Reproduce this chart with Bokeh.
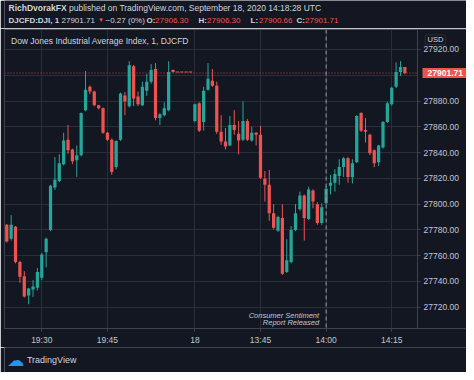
from bokeh.plotting import figure
from bokeh.layouts import column
from bokeh.models import (Range1d, FixedTicker, Span, Label, LinearAxis, Grid,
                          BoxAnnotation, NumeralTickFormatter, ColumnDataSource)
from bokeh.embed import file_html
from bokeh.resources import INLINE

# ---------------- data (1-minute bars, index 0 = 19:30) ----------------
bar_index = list(range(-8, 84))
opens = [27783.9, 27773.2, 27782.4, 27755.0, 27744.0, 27729.0, 27733.7, 27735.2,
         27742.8, 27762.6, 27780.0, 27812.8, 27818.0, 27831.0, 27850.0, 27842.4,
         27834.0, 27837.9, 27872.9, 27891.0, 27887.3, 27876.7, 27874.4, 27855.4,
         27850.0, 27828.7, 27850.0, 27884.3, 27875.9, 27907.0, 27883.5, 27876.7,
         27888.0, 27895.0, 27904.8, 27866.8, 27869.0, 27872.9, 27904.0, 27902.5,
         27902.5, 27902.5, 27902.5,
         27864.5, 27878.2, 27863.7, 27888.8, 27895.7, 27891.9, 27856.1, 27848.5,
         27845.5, 27861.4, 27854.6, 27850.0, 27864.5, 27849.3, 27855.4, 27853.8,
         27819.6, 27815.0, 27793.0, 27779.3, 27789.2, 27747.4, 27755.0, 27780.0,
         27796.0, 27806.7, 27788.4, 27810.5, 27799.9, 27785.4, 27800.6, 27814.3,
         27816.6, 27821.9, 27828.7, 27835.6, 27821.1, 27832.5, 27870.6, 27857.6,
         27853.8, 27841.7, 27832.5, 27844.0, 27863.7, 27877.4, 27891.0, 27902.5,
         27906.3]
highs = [27784.6, 27791.5, 27783.0, 27756.0, 27748.0, 27735.0, 27741.0, 27750.4,
         27762.0, 27774.0, 27815.0, 27836.4, 27838.6, 27855.4, 27861.4, 27843.0,
         27845.5, 27871.0, 27903.3, 27892.0, 27888.0, 27877.0, 27875.0, 27856.0,
         27851.0, 27849.5, 27886.5, 27887.0, 27910.9, 27908.0, 27887.3, 27895.0,
         27901.0, 27908.6, 27909.4, 27870.5, 27879.0, 27910.9, 27904.5, 27902.5,
         27902.5, 27902.5, 27902.5,
         27878.0, 27879.0, 27891.0, 27909.4, 27904.8, 27895.0, 27869.0, 27859.0,
         27868.3, 27872.9, 27864.5, 27879.7, 27866.0, 27860.0, 27856.0, 27860.7,
         27825.7, 27826.5, 27799.9, 27791.0, 27799.9, 27772.7, 27783.0, 27800.0,
         27809.7, 27807.5, 27813.5, 27811.5, 27801.5, 27800.6, 27814.0, 27822.7,
         27827.0, 27834.8, 27836.5, 27836.5, 27834.8, 27869.0, 27871.3, 27866.8,
         27854.5, 27842.5, 27846.0, 27864.5, 27879.5, 27891.0, 27910.0, 27910.9,
         27906.3]
lows = [27770.2, 27771.7, 27754.0, 27739.0, 27727.5, 27722.3, 27728.0, 27733.0,
        27741.0, 27751.0, 27779.0, 27811.0, 27817.0, 27830.0, 27839.0, 27831.0,
        27821.1, 27837.0, 27872.0, 27885.5, 27876.0, 27873.5, 27854.5, 27849.0,
        27822.7, 27827.0, 27849.0, 27869.0, 27875.0, 27876.0, 27876.0, 27876.0,
        27884.0, 27893.5, 27865.0, 27861.4, 27868.0, 27872.0, 27902.0, 27902.5,
        27902.5, 27902.5, 27902.5,
        27863.5, 27856.0, 27857.0, 27888.0, 27891.0, 27854.5, 27846.0, 27842.4,
        27845.0, 27853.8, 27838.6, 27849.0, 27849.0, 27848.5, 27845.5, 27819.5,
        27802.0, 27787.0, 27780.5, 27778.5, 27745.0, 27746.5, 27754.0, 27779.0,
        27795.0, 27771.7, 27787.5, 27796.8, 27784.0, 27783.9, 27800.0, 27807.5,
        27809.7, 27815.0, 27821.1, 27816.6, 27816.0, 27832.0, 27856.0, 27847.8,
        27838.0, 27828.7, 27829.5, 27843.0, 27863.0, 27876.5, 27890.0, 27899.5,
        27900.66]
closes = [27771.0, 27784.0, 27755.0, 27743.6, 27728.4, 27734.5, 27736.0, 27747.4,
          27761.0, 27773.2, 27814.3, 27818.9, 27831.8, 27849.3, 27841.7, 27833.3,
          27837.9, 27870.6, 27888.8, 27887.3, 27876.7, 27874.4, 27855.4, 27850.0,
          27825.0, 27849.0, 27885.8, 27879.7, 27907.8, 27882.0, 27877.4, 27891.0,
          27895.0, 27904.0, 27866.8, 27869.8, 27874.4, 27902.5, 27902.5, 27902.5,
          27902.5, 27902.5, 27902.5,
          27877.4, 27856.9, 27888.0, 27897.2, 27891.9, 27856.1, 27848.5, 27844.7,
          27861.4, 27857.6, 27849.3, 27864.5, 27850.0, 27855.4, 27853.8, 27820.4,
          27815.0, 27793.0, 27781.6, 27790.0, 27745.9, 27756.5, 27780.0, 27793.0,
          27806.7, 27789.2, 27811.3, 27802.1, 27785.4, 27797.6, 27812.0, 27816.6,
          27823.4, 27828.7, 27835.6, 27821.1, 27831.8, 27868.3, 27856.9, 27856.1,
          27839.4, 27831.8, 27845.5, 27863.7, 27878.2, 27890.3, 27902.5, 27906.3,
          27901.71]

tick_index = [0, 15, 35, 50, 65, 80]
tick_labels = ["19:30", "19:45", "18", "13:45", "14:00", "14:15"]
price_ticks = [27720, 27740, 27760, 27780, 27800, 27820, 27840, 27860, 27880, 27920]
grid_prices = [27720, 27740, 27760, 27780, 27800, 27820, 27840, 27860, 27880, 27900, 27920]
last_price = 27901.71
prev_change = "\u22120.27 (0%)"
event_index = 65
event_text = ["Consumer Sentiment", "Report Released"]
currency = "USD"

# ---------------- styling ----------------
BG = "#131722"
GRID = "#2a2e39"
BORDER = "#3e424d"
TEXT = "#d1d4dc"
AXTEXT = "#c3c6ce"
UP = "#26a69a"
DOWN = "#ef5350"
FONT = "Liberation Sans"
W = 466
X_START, X_SCALE_EDGE, X_END = -8.523, 85.888, 97.09   # price scale starts at X_SCALE_EDGE
Y_START, Y_END = 27703.49, 27935.48

colors = [UP if c > o else DOWN for o, c in zip(opens, closes)]
tops = [max(o, c) for o, c in zip(opens, closes)]
bottoms = [min(o, c) for o, c in zip(opens, closes)]
src = ColumnDataSource(dict(x=bar_index, o=opens, h=highs, l=lows, c=closes,
                            top=tops, bottom=bottoms, color=colors))
doji = [i for i, (o, c) in enumerate(zip(opens, closes)) if o == c]
doji_src = ColumnDataSource(dict(
    x0=[bar_index[i] - 0.38 for i in doji],
    x1=[bar_index[i] + 0.38 for i in doji],
    y=[closes[i] for i in doji]))


def label(fig, text, x, y, size="8px", color=TEXT, style="normal", align="left",
          xu="screen", yu="screen", font=FONT, **kw):
    fig.add_layout(Label(text=text, x=x, y=y, x_units=xu, y_units=yu,
                         text_font=font, text_font_size=size, text_color=color,
                         text_font_style=style, text_align=align,
                         text_baseline="middle", **kw))


def rule_axis(color):
    return LinearAxis(ticker=FixedTicker(ticks=[]), axis_line_color=color,
                      major_tick_line_color=None, minor_tick_line_color=None,
                      major_label_standoff=0)


# ---------------- header ----------------
hdr = figure(width=W, height=28, output_backend="svg", toolbar_location=None,
             x_range=Range1d(0, W), y_range=Range1d(0, 28),
             x_axis_type=None, y_axis_type=None, min_border=0,
             background_fill_color=BG, border_fill_color=BG, outline_line_color=None)
hdr.add_layout(rule_axis(BORDER), "below")
label(hdr, "RichDvorakFX", 4, 20.2, size="8.5px", style="bold")
label(hdr, "published on TradingView.com, September 18, 2020 14:18:28 UTC", 64.5, 20.2,
      size="8.5px")
label(hdr, "DJCFD:DJI, 1", 4, 8.4, style="bold")
label(hdr, f"{last_price:.2f}", 57, 8.4)
label(hdr, "\u25bc", 93.5, 8.4, color=DOWN, size="6px")
label(hdr, prev_change, 101, 8.4)
ohlc = [("O:", opens[-1], 142), ("H:", highs[-1], 194), ("L:", lows[-1], 246),
        ("C:", closes[-1], 292)]
for key, val, xx in ohlc:
    label(hdr, key, xx, 8.4, style="bold")
    label(hdr, f"{val:.2f}", xx + 8.6, 8.4, color=DOWN)

# ---------------- main chart ----------------
p = figure(width=W, height=319, output_backend="svg", toolbar_location=None,
           x_range=Range1d(X_START, X_END), y_range=Range1d(Y_START, Y_END),
           y_axis_type=None, min_border_left=4, min_border_right=0,
           min_border_top=1, min_border_bottom=19,
           background_fill_color=BG, border_fill_color=BG,
           outline_line_color=None)

p.xgrid.ticker = FixedTicker(ticks=tick_index)
p.xgrid.grid_line_color = GRID
p.add_layout(Grid(dimension=1, ticker=FixedTicker(ticks=grid_prices),
                  grid_line_color=GRID))
p.add_layout(rule_axis(BORDER), "left")

# last price line (behind candles), then blank the price-scale strip
p.add_layout(Span(location=last_price, dimension="width", line_color=DOWN,
                  line_alpha=0.8, line_dash="1 2", line_width=1, level="underlay"))
p.add_layout(BoxAnnotation(left=X_SCALE_EDGE, right=X_END, bottom=Y_START, top=Y_END,
                           fill_color=BG, fill_alpha=1, line_color=None,
                           level="underlay"))

xa = p.xaxis[0]
xa.ticker = FixedTicker(ticks=tick_index)
xa.major_label_overrides = {t: s for t, s in zip(tick_index, tick_labels)}
xa.axis_line_color = BORDER
xa.major_tick_line_color = BORDER
xa.major_tick_out = 3
xa.major_tick_in = 0
xa.minor_tick_line_color = None
xa.major_label_text_color = AXTEXT
xa.major_label_text_font = FONT
xa.major_label_text_font_size = "8.5px"
xa.major_label_standoff = 3

# price scale drawn at the right edge of the candle area
ya = LinearAxis(fixed_location=X_SCALE_EDGE, ticker=FixedTicker(ticks=price_ticks),
                formatter=NumeralTickFormatter(format="0.00"),
                axis_line_color=BORDER, major_tick_line_color=BORDER,
                major_tick_out=3, major_tick_in=0, minor_tick_line_color=None,
                major_label_text_color=AXTEXT, major_label_text_font=FONT,
                major_label_text_font_size="8.5px", major_label_standoff=3)
p.add_layout(ya, "right")

# candles
p.segment(x0="x", y0="h", x1="x", y1="l", line_color="color", line_width=1, source=src)
p.vbar(x="x", width=0.74, top="top", bottom="bottom", fill_color="color",
       line_color=None, source=src)
p.segment(x0="x0", y0="y", x1="x1", y1="y", line_color=DOWN, line_width=1.2,
          source=doji_src)

# event line
p.add_layout(Span(location=event_index, dimension="height", line_color="#9598a1",
                  line_dash="4 3", line_width=1))

# last price tag
p.add_layout(Label(text=f"{last_price:.2f}", x=418, y=last_price, x_units="screen",
                   y_units="data", text_font=FONT, text_font_size="8.5px",
                   text_font_style="bold", text_color="#ffffff", text_align="left",
                   text_baseline="middle", background_fill_color=DOWN,
                   padding=(5, 2)))

# currency badge
p.add_layout(BoxAnnotation(left=420.6, right=441.2, bottom=284, top=293.7,
                           left_units="screen", right_units="screen",
                           bottom_units="screen", top_units="screen",
                           fill_color=None, line_color="#5d606b", line_width=1,
                           border_radius=2))
label(p, currency, 430.9, 288.9, size="7.5px", align="center")

# title and event note
label(p, "Dow Jones Industrial Average Index, 1, DJCFD", 6.5, 287.2, size="8.5px")
label(p, event_text[0], event_index, 12.8, size="7.5px", color=AXTEXT, style="italic",
      align="right", xu="data", x_offset=-7)
label(p, event_text[1], event_index, 5.9, size="7.5px", color=AXTEXT, style="italic",
      align="right", xu="data", x_offset=-7)

# ---------------- footer ----------------
ftr = figure(width=W, height=25, output_backend="svg", toolbar_location=None,
             x_range=Range1d(0, W), y_range=Range1d(0, 25),
             x_axis_type=None, y_axis_type=None, min_border=0,
             background_fill_color=BG, border_fill_color=BG, outline_line_color=None)
ftr.add_layout(rule_axis(BORDER), "above")
label(ftr, "\u2601", 3, 12.5, size="17px", color="#2196f3", font="DejaVu Sans",
      xu="data", yu="data")
label(ftr, "TradingView", 22.6, 12.7, size="9px", xu="data", yu="data")

layout = column(hdr, p, ftr, spacing=0)
open("out.html", "w").write(file_html(layout, INLINE))
